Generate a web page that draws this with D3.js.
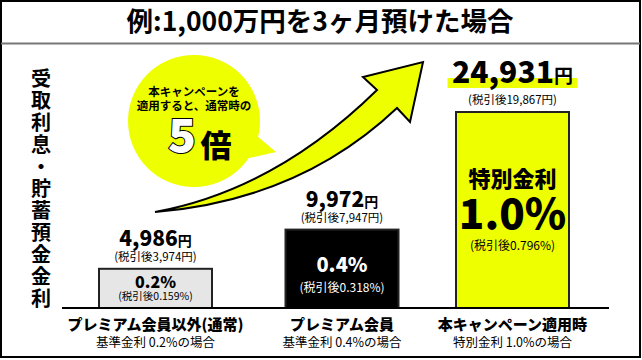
<!DOCTYPE html>
<html><head><meta charset="utf-8">
<script src="https://cdn.jsdelivr.net/npm/d3@7"></script>
<style>
html,body{margin:0;padding:0;background:#fff;}
text{font-family:"Noto Sans CJK JP","Noto Sans",sans-serif;}
</style></head>
<body><svg id="c" width="642" height="360"></svg>
<script>
const titleText = "例:1,000万円を3ヶ月預けた場合";
const axisLabel = "受取利息・貯蓄預金金利";
const categories = ["プレミアム会員以外(通常)", "プレミアム会員", "本キャンペーン適用時"];
const subLabels = ["基準金利 0.2%の場合", "基準金利 0.4%の場合", "特別金利 1.0%の場合"];
const interest = [4986, 9972, 24931];
const interestAfterTax = [3974, 7947, 19867];
const rates = [0.2, 0.4, 1.0];
const ratesAfterTax = [0.159, 0.318, 0.796];
const bubbleLines = ["本キャンペーンを", "適用すると、通常時の"];
const bubbleMultiple = "5";
const bubbleUnit = "倍";
const specialLabel = "特別金利";

const YEL = "#eeff00";
const svg = d3.select("#c");
const fmt = d3.format(",");

// frame
svg.append("rect").attr("x",1).attr("y",1).attr("width",639).attr("height",356)
  .attr("fill","#fff").attr("stroke","#000").attr("stroke-width",2);
svg.append("line").attr("x1",1).attr("x2",640).attr("y1",43.5).attr("y2",43.5)
  .attr("stroke","#777").attr("stroke-width",2);
svg.append("text").attr("x",320).attr("y",31).attr("text-anchor","middle")
  .attr("font-size",26.5).attr("font-weight",700).text(titleText);

// vertical axis label (single text, vertical writing)
svg.append("text").attr("x",41).attr("y",68)
  .style("writing-mode","vertical-rl").style("text-orientation","upright")
  .attr("font-size",20).attr("font-weight",700).attr("letter-spacing",2)
  .text(axisLabel);

// scales
const x = d3.scaleOrdinal().domain(categories).range([155.5, 342, 512.5]);
const barW = 113;
const y = d3.scaleLinear().domain([0, d3.max(interest)]).range([308, 112]);

// arrow
const arrow = "M155,212 Q275,190 377,90 L363,77 L423,62 L410,122 L397,108 Q300,200 155,212 Z";
svg.append("path").attr("d",arrow).attr("fill",YEL).attr("stroke","#000")
  .attr("stroke-width",2).attr("stroke-linejoin","miter");

// bubble
const bub = svg.append("g");
bub.append("path").attr("d","M250,130 L276,152 L240,160 Z").attr("fill",YEL);
bub.append("circle").attr("cx",194).attr("cy",121).attr("r",66).attr("fill",YEL);
bub.selectAll("text.bl").data(bubbleLines).join("text").attr("class","bl")
  .attr("x",194).attr("y",(d,i)=>96+i*13.5).attr("text-anchor","middle")
  .attr("font-size",11.5).attr("font-weight",700).text(d=>d);
bub.append("text").attr("x",182).attr("y",152).attr("text-anchor","middle")
  .attr("font-size",46).attr("font-weight",900).attr("fill","#fff")
  .attr("stroke","#000").attr("stroke-width",2).attr("paint-order","stroke")
  .attr("font-family","'Noto Sans', sans-serif").text(bubbleMultiple);
bub.append("text").attr("x",216).attr("y",157).attr("text-anchor","middle")
  .attr("font-size",31).attr("font-weight",900).text(bubbleUnit);

// bars
const fills = ["#e6e6e6", "#000", YEL];
svg.append("g").selectAll("rect").data(interest).join("rect")
  .attr("x",(d,i)=>x(categories[i])-barW/2).attr("width",barW)
  .attr("y",d=>y(d)).attr("height",d=>y(0)-y(d))
  .attr("fill",(d,i)=>fills[i]).attr("stroke","#222").attr("stroke-width",2);

// baseline
svg.append("line").attr("x1",62).attr("x2",609).attr("y1",y(0)).attr("y2",y(0))
  .attr("stroke","#000").attr("stroke-width",2);

// highlight under largest value
const iMax = interest.indexOf(d3.max(interest));
svg.append("rect").attr("x",x(categories[iMax])-65).attr("y",y(interest[iMax])-34)
  .attr("width",130).attr("height",10).attr("fill",YEL);

// value labels
const numSize = [21, 21, 30], yenSize = [14, 14, 19];
interest.forEach((v,i)=>{
  const cx = x(categories[i]);
  const top = y(v);
  const big = i===iMax;
  const t = svg.append("text").attr("x",cx).attr("y",top - (big?29:23))
    .attr("text-anchor","middle").attr("font-weight",900);
  t.append("tspan").attr("font-size",numSize[i]).text(fmt(v));
  t.append("tspan").attr("font-size",yenSize[i]).attr("font-weight",700).text("円");
  svg.append("text").attr("x",cx).attr("y",top - 8).attr("text-anchor","middle")
    .attr("font-size",11.5).text(`(税引後${fmt(interestAfterTax[i])}円)`);
});

// in-bar labels
{
  const cx = x(categories[0]), top = y(interest[0]);
  svg.append("text").attr("x",cx).attr("y",top+19).attr("text-anchor","middle")
    .attr("font-size",16).attr("font-weight",900).text(rates[0].toFixed(1)+"%");
  svg.append("text").attr("x",cx).attr("y",top+31).attr("text-anchor","middle")
    .attr("font-size",10.5).text(`(税引後${ratesAfterTax[0]}%)`);
}
{
  const cx = x(categories[1]), top = y(interest[1]);
  svg.append("text").attr("x",cx).attr("y",top+42).attr("text-anchor","middle")
    .attr("font-size",20).attr("font-weight",900).attr("fill","#fff").text(rates[1].toFixed(1)+"%");
  svg.append("text").attr("x",cx).attr("y",top+62).attr("text-anchor","middle")
    .attr("font-size",12).attr("fill","#fff").text(`(税引後${ratesAfterTax[1]}%)`);
}
{
  const cx = x(categories[2]), top = y(interest[2]);
  svg.append("text").attr("x",cx).attr("y",top+75).attr("text-anchor","middle")
    .attr("font-size",22).attr("font-weight",900).text(specialLabel);
  svg.append("text").attr("x",cx).attr("y",top+117).attr("text-anchor","middle")
    .attr("font-size",42).attr("font-weight",900).text(rates[2].toFixed(1)+"%");
  svg.append("text").attr("x",cx).attr("y",top+138).attr("text-anchor","middle")
    .attr("font-size",12).text(`(税引後${ratesAfterTax[2]}%)`);
}

// category labels
svg.append("g").selectAll("text").data(categories).join("text")
  .attr("x",d=>x(d)).attr("y",330).attr("text-anchor","middle")
  .attr("font-size",15).attr("font-weight",900).text(d=>d);
svg.append("g").selectAll("text").data(subLabels).join("text")
  .attr("x",(d,i)=>x(categories[i])).attr("y",346.5).attr("text-anchor","middle")
  .attr("font-size",12.5).text(d=>d);
</script></body></html>
